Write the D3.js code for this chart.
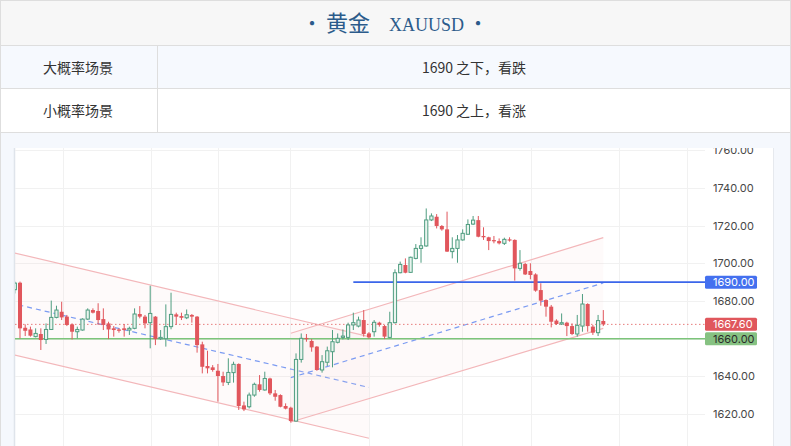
<!DOCTYPE html>
<html><head><meta charset="utf-8">
<script src="https://cdn.jsdelivr.net/npm/d3@7"></script>
<style>body{margin:0;background:#fff;}svg{display:block;}</style>
</head><body>
<script>
// ---------------- data ----------------
const titleText = "黄金";
const symbolText = "XAUUSD";
const rowLabels = ["大概率场景", "小概率场景"];
const rowTexts = ["1690 之下，看跌", "1690 之上，看涨"];

const open = [1686.0,1689.7,1665.8,1664.9,1661.1,1662.5,1659.6,1664.9,1671.3,1674.3,1671.7,1667.6,1663.7,1664.6,1670.4,1675.2,1674.7,1670.4,1668.1,1665.5,1664.9,1665.5,1664.6,1665.5,1673.1,1671.7,1668.5,1671.7,1660.0,1660.0,1666.4,1672.9,1672.0,1671.1,1672.6,1671.7,1657.0,1645.5,1644.8,1643.0,1640.2,1636.8,1642.0,1646.6,1624.6,1623.9,1630.1,1635.8,1632.8,1638.9,1631.0,1630.1,1624.3,1623.4,1616.3,1649.0,1660.4,1658.8,1655.8,1643.4,1647.5,1653.1,1658.1,1660.7,1660.7,1667.3,1666.7,1669.9,1662.8,1663.7,1668.5,1666.7,1660.7,1668.5,1695.0,1699.1,1695.2,1702.6,1707.9,1709.2,1723.0,1724.7,1719.8,1718.0,1706.2,1707.9,1712.4,1715.4,1720.8,1722.9,1714.5,1713.8,1712.3,1711.8,1710.6,1712.7,1712.4,1697.3,1699.6,1695.9,1694.1,1685.8,1680.5,1677.0,1669.6,1667.8,1668.5,1666.7,1662.5,1666.7,1678.4,1666.4,1663.2,1669.4];
const high = [1690.3,1690.3,1667.6,1666.4,1665.5,1665.5,1668.1,1680.2,1677.5,1679.6,1672.6,1668.1,1666.4,1670.8,1676.1,1676.1,1678.8,1676.1,1669.0,1666.7,1665.5,1667.8,1666.4,1676.1,1677.3,1672.6,1688.1,1672.0,1664.6,1678.2,1684.4,1673.8,1673.8,1675.5,1673.1,1672.0,1658.4,1653.6,1646.0,1646.6,1642.5,1649.6,1647.8,1646.9,1626.6,1631.4,1636.7,1640.7,1642.5,1639.3,1632.8,1630.5,1625.7,1623.9,1652.2,1662.8,1662.5,1659.8,1656.1,1651.3,1655.8,1664.6,1662.8,1664.9,1668.5,1673.8,1671.7,1675.2,1663.5,1669.9,1669.0,1667.3,1674.3,1696.8,1700.9,1702.6,1703.5,1710.2,1713.8,1729.1,1726.5,1726.1,1720.3,1727.4,1713.8,1715.0,1718.0,1723.3,1725.1,1725.1,1719.1,1714.1,1714.5,1713.2,1713.6,1713.8,1712.7,1707.0,1700.3,1700.0,1694.7,1689.4,1680.9,1677.9,1670.3,1673.4,1669.0,1668.1,1672.6,1683.7,1678.8,1667.3,1672.6,1675.2];
const low = [1684.0,1660.2,1661.4,1661.1,1660.7,1654.0,1657.2,1664.6,1670.8,1669.9,1666.7,1659.6,1660.2,1664.3,1669.9,1673.4,1667.3,1664.6,1659.8,1661.1,1663.2,1661.1,1662.0,1665.0,1670.8,1665.5,1654.9,1656.6,1659.3,1655.8,1665.0,1667.3,1669.9,1670.4,1668.5,1652.6,1641.6,1641.6,1642.5,1626.6,1634.9,1635.4,1636.7,1622.2,1621.6,1623.0,1629.2,1631.9,1632.4,1630.1,1627.1,1623.6,1622.5,1615.5,1616.0,1647.3,1658.4,1653.1,1643.0,1642.0,1645.5,1644.8,1657.5,1659.6,1659.3,1664.6,1666.0,1661.1,1660.0,1661.1,1666.4,1659.8,1660.2,1668.1,1694.7,1694.7,1695.0,1702.1,1700.3,1708.8,1722.4,1718.5,1717.3,1706.0,1702.6,1700.3,1712.0,1715.0,1720.3,1713.8,1712.4,1707.0,1710.6,1710.0,1709.7,1711.5,1690.8,1696.1,1693.8,1691.5,1684.9,1677.5,1671.7,1666.0,1667.3,1667.3,1661.4,1661.9,1661.1,1663.7,1663.7,1662.0,1661.4,1666.7];
const close = [1689.5,1665.5,1664.2,1661.6,1662.8,1659.3,1664.9,1671.3,1675.2,1671.3,1667.3,1663.7,1664.9,1670.4,1675.2,1673.8,1669.9,1667.3,1664.9,1664.6,1664.2,1664.6,1665.5,1673.1,1671.7,1668.1,1673.4,1659.8,1660.7,1666.4,1672.9,1671.7,1671.1,1672.7,1671.7,1656.6,1645.1,1644.3,1643.4,1640.2,1636.8,1642.1,1646.4,1624.3,1622.5,1630.1,1635.8,1632.8,1638.9,1631.0,1629.2,1623.9,1622.9,1616.3,1649.0,1660.2,1659.8,1655.4,1643.4,1647.8,1653.6,1658.4,1660.2,1661.4,1667.3,1668.5,1669.9,1662.5,1660.7,1668.7,1667.3,1661.1,1668.5,1695.0,1699.4,1695.0,1703.2,1707.9,1709.3,1723.0,1725.1,1719.8,1718.0,1706.2,1707.9,1712.4,1715.9,1720.6,1722.9,1714.1,1713.8,1711.8,1711.8,1710.6,1712.7,1712.4,1697.3,1700.0,1694.1,1693.8,1685.5,1680.2,1677.0,1669.0,1667.8,1668.5,1666.7,1662.5,1667.1,1678.4,1666.7,1663.2,1669.6,1667.6];

const yTicks = [1620,1640,1660,1680,1700,1720,1740,1760];
const timeGrid = [9.25,26.15,39,52.85,68,85.85,99.1,116,129.1];

// channels: [index, price] endpoints
const downUpper = [[-1,1706.1],[68,1661.1]];
const downLower = [[-1,1652.0],[68,1607.2]];
const upUpper = [[53,1662.9],[113,1713.6]];
const upLower = [[53,1615.8],[113,1665.5]];

const resistance = 1690, resistanceFrom = 65;
const support = 1660;
const lastPrice = 1667.6;

// ---------------- drawing ----------------
const W = 791, H = 446;
const svg = d3.select("body").append("svg").attr("width", W).attr("height", H);
const cjk = "'Noto Sans CJK SC','Noto Sans',sans-serif";

// table area
svg.append("rect").attr("x",0).attr("y",0).attr("width",W).attr("height",H).attr("fill","#f5f8fd");
svg.append("rect").attr("x",0).attr("y",0).attr("width",W).attr("height",45).attr("fill","#f7f7f7");
svg.append("rect").attr("x",0).attr("y",45).attr("width",W).attr("height",43).attr("fill","#f6f9fe");
svg.append("rect").attr("x",0).attr("y",88).attr("width",W).attr("height",44).attr("fill","#ffffff");
const border = "#dedede";
[0.5,45.5,88.5,132.5].forEach(v => svg.append("line").attr("x1",0).attr("x2",W).attr("y1",v).attr("y2",v).attr("stroke",border));
svg.append("line").attr("x1",157.5).attr("x2",157.5).attr("y1",45).attr("y2",132).attr("stroke",border);
svg.append("line").attr("x1",0.5).attr("x2",0.5).attr("y1",0).attr("y2",H).attr("stroke",border);
svg.append("line").attr("x1",790.5).attr("x2",790.5).attr("y1",0).attr("y2",H).attr("stroke",border);

const titleColor = "#2b5b8b";
svg.append("text").attr("x",312).attr("y",31).attr("text-anchor","middle").attr("fill",titleColor)
  .style("font-family",cjk).style("font-size","20px").text("•");
svg.append("text").attr("x",326).attr("y",31).attr("fill",titleColor)
  .style("font-family",cjk).style("font-size","22px").text(titleText);
svg.append("text").attr("x",389).attr("y",31).attr("fill",titleColor)
  .style("font-family","'Liberation Serif','DejaVu Serif',serif").style("font-size","18px")
  .text(symbolText);
svg.append("text").attr("x",478).attr("y",31).attr("text-anchor","middle").attr("fill",titleColor)
  .style("font-family",cjk).style("font-size","20px").text("•");

rowLabels.forEach((t,i) => {
  const cy = [67,110][i];
  svg.append("text").attr("x",78).attr("y",cy).attr("text-anchor","middle").attr("dominant-baseline","central")
    .style("font-family",cjk).style("font-size","14px").attr("fill","#333").text(t);
  svg.append("text").attr("x",474).attr("y",cy).attr("text-anchor","middle").attr("dominant-baseline","central")
    .style("font-family",cjk).style("font-size","14px").attr("fill","#333").text(rowTexts[i]);
});

// chart panel
const px0 = 15, px1 = 705, py0 = 148, py1 = H;
svg.append("rect").attr("x",px0).attr("y",py0).attr("width",773-px0).attr("height",py1-py0).attr("fill","#fff");
svg.append("line").attr("x1",14.5).attr("x2",14.5).attr("y1",py0).attr("y2",H).attr("stroke","#dfe4eb").attr("stroke-width",1.5);
svg.append("line").attr("x1",773.5).attr("x2",773.5).attr("y1",py0).attr("y2",H).attr("stroke","#e6e9ee");

const defs = svg.append("defs");
defs.append("clipPath").attr("id","plot").append("rect").attr("x",px0).attr("y",py0).attr("width",px1-px0).attr("height",py1-py0);
defs.append("clipPath").attr("id","axis").append("rect").attr("x",px1).attr("y",py0).attr("width",773-px1).attr("height",py1-py0);

const x = d3.scaleLinear().domain([0,113]).range([14.8,603.3]);
const y = d3.scaleLinear().domain([1620,1760]).range([414.1,150.2]);

const plot = svg.append("g").attr("clip-path","url(#plot)");
// grid
plot.selectAll(".hg").data(yTicks).join("line").attr("x1",px0).attr("x2",px1)
  .attr("y1",d=>Math.round(y(d))+0.5).attr("y2",d=>Math.round(y(d))+0.5).attr("stroke","#f1f1f1");
plot.selectAll(".vg").data(timeGrid).join("line").attr("y1",py0).attr("y2",py1)
  .attr("x1",d=>Math.round(x(d))+0.5).attr("x2",d=>Math.round(x(d))+0.5).attr("stroke","#f1f1f1");

// channels
function drawChannel(up, lo) {
  const poly = [up[0], up[1], lo[1], lo[0]];
  plot.append("path").attr("d", d3.line().x(d=>x(d[0])).y(d=>y(d[1]))(poly) + "Z")
    .attr("fill","#f7d5db").attr("fill-opacity",0.13);
  [up, lo].forEach(l => plot.append("path").attr("d", d3.line().x(d=>x(d[0])).y(d=>y(d[1]))(l))
    .attr("stroke","#f3b7ba").attr("stroke-width",1.2).attr("fill","none"));
  const mid = [[up[0][0],(up[0][1]+lo[0][1])/2],[up[1][0],(up[1][1]+lo[1][1])/2]];
  plot.append("path").attr("d", d3.line().x(d=>x(d[0])).y(d=>y(d[1]))(mid))
    .attr("stroke","#7b9bf2").attr("stroke-width",1.2).attr("stroke-dasharray","5,4").attr("fill","none");
}
drawChannel(downUpper, downLower);
drawChannel(upUpper, upLower);

// levels
plot.append("line").attr("x1",px0).attr("x2",px1).attr("y1",y(lastPrice)).attr("y2",y(lastPrice))
  .attr("stroke","#e77b7b").attr("stroke-width",1).attr("stroke-dasharray","1.5,2.5");
plot.append("line").attr("x1",px0).attr("x2",px1).attr("y1",y(support)).attr("y2",y(support))
  .attr("stroke","#7cc47a").attr("stroke-width",1.6);
plot.append("line").attr("x1",x(resistanceFrom)).attr("x2",px1).attr("y1",y(resistance)).attr("y2",y(resistance))
  .attr("stroke","#3b66ea").attr("stroke-width",1.6);

// candles
const RED = "#e1565c", GREEN = "#4f9d80";
const idx = d3.range(open.length);
const cg = plot.append("g");
idx.forEach(i => {
  const up = close[i] >= open[i];
  const col = up ? GREEN : RED;
  cg.append("line").attr("x1",x(i)).attr("x2",x(i)).attr("y1",y(high[i])).attr("y2",y(low[i]))
    .attr("stroke",col).attr("stroke-width",1);
  const top = y(Math.max(open[i],close[i])), bot = y(Math.min(open[i],close[i]));
  if (up) {
    cg.append("rect").attr("x",x(i)-1.6).attr("width",3.2).attr("y",top).attr("height",Math.max(1,bot-top))
      .attr("fill","#e9f4ee").attr("stroke",col).attr("stroke-width",1);
  } else {
    cg.append("rect").attr("x",x(i)-2).attr("width",4).attr("y",top).attr("height",Math.max(1.2,bot-top))
      .attr("fill",col);
  }
});

// axis
const axisG = svg.append("g").attr("clip-path","url(#axis)").append("g").attr("transform",`translate(${px1},0)`)
  .call(d3.axisRight(y).tickValues(yTicks).tickFormat(d3.format(".2f")).tickSize(0).tickPadding(8));
axisG.select(".domain").remove();
axisG.selectAll("text").style("font-family","Inter,Roboto,sans-serif").style("font-size","11px").attr("fill","#474747");

// price tags
const tags = [[resistance,"#4470ef","#fff"],[lastPrice,"#e0575c","#fff"],[support,"#86c282","#2b2b2b"]];
tags.forEach(([v,bg,fg]) => {
  svg.append("rect").attr("x",px1).attr("y",y(v)-6.5).attr("width",52).attr("height",13).attr("rx",1.5).attr("fill",bg);
  svg.append("text").attr("x",px1+8).attr("y",y(v)).attr("dominant-baseline","central")
    .style("font-family","Inter,Roboto,sans-serif").style("font-size","11px").attr("fill",fg).text(d3.format(".2f")(v));
});
</script>
</body></html>
